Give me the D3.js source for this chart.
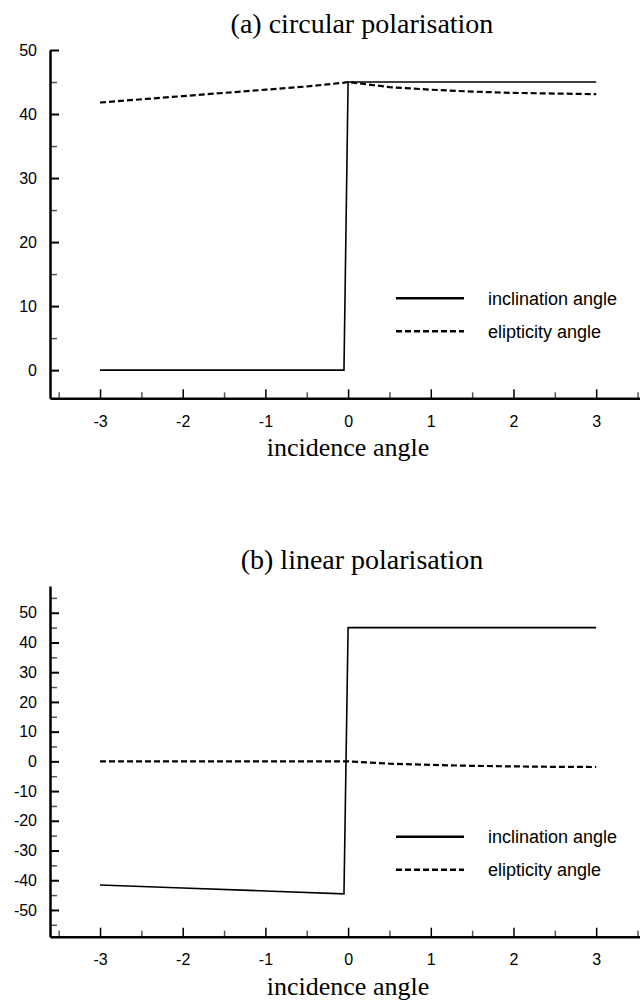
<!DOCTYPE html>
<html>
<head>
<meta charset="utf-8">
<script src="https://cdn.jsdelivr.net/npm/d3@7"></script>
<style>
  body { margin: 0; background: #fff; }
  .tick text { font-family: Arial, "Liberation Sans", sans-serif; font-size: 16px; fill: #000; }
  .title { font-family: "Times New Roman", "Liberation Serif", serif; font-size: 28px; }
  .xlabel { font-family: "Times New Roman", "Liberation Serif", serif; font-size: 26px; }
  .legend text { font-family: Arial, "Liberation Sans", sans-serif; font-size: 18px; }
</style>
</head>
<body>
<div id="chart"></div>
<script>
// chart data
let titles = ["(a) circular polarisation", "(b) linear polarisation"];
let xLabel = "incidence angle";
let seriesNames = ["inclination angle", "elipticity angle"];

// panel (a)
let incA = [[-3, 0], [-0.05, 0], [0, 45], [3, 45]];
let eliA = [[-3, 41.8], [-2, 42.8], [-1, 43.8], [-0.5, 44.3], [-0.05, 44.9], [0, 45],
            [0.5, 44.2], [1, 43.8], [1.5, 43.5], [2, 43.3], [2.5, 43.2], [3, 43.1]];
// panel (b)
let incB = [[-3, -41.6], [-2, -42.6], [-1, -43.6], [-0.05, -44.6], [0, 45], [3, 45]];
let eliB = [[-3, 0], [-2, 0], [-1, 0], [0, 0], [0.5, -0.8], [1, -1.2],
            [1.5, -1.5], [2, -1.7], [2.5, -1.85], [3, -1.9]];

let xTicks = [-3, -2, -1, 0, 1, 2, 3];
let xMinor = [-3.5, -2.5, -1.5, -0.5, 0.5, 1.5, 2.5, 3.5];
let yTicksA = [0, 10, 20, 30, 40, 50];
let yMinorA = [5, 15, 25, 35, 45];
let yTicksB = [-50, -40, -30, -20, -10, 0, 10, 20, 30, 40, 50];
let yMinorB = [-55, -45, -35, -25, -15, -5, 5, 15, 25, 35, 45, 55];

let svgWidth = 640;
let svgHeight = 1007;

let svg = d3.select("#chart")
    .append("svg")
    .attr("width", svgWidth)
    .attr("height", svgHeight);

let xScale = d3.scaleLinear()
    .domain([-3.605, 3.53])
    .range([50, 640]);

// plain hyphen for negatives, like the original
let fmt = d => String(d);

function drawPanel(p) {
    let yScale = d3.scaleLinear().domain(p.yDomain).range([p.bottom, p.top]);
    let g = svg.append("g");

    // title
    g.append("text")
        .attr("class", "title")
        .attr("x", 362)
        .attr("y", p.top - 17)
        .attr("text-anchor", "middle")
        .text(p.title);

    // minor ticks first, then major axes on top
    g.append("g")
        .attr("transform", `translate(50,0)`)
        .call(d3.axisLeft(yScale).tickValues(p.yMinor).tickFormat("").tickSizeInner(-7).tickSizeOuter(0))
        .call(a => a.select(".domain").remove())
        .call(a => a.selectAll("line").attr("stroke", "#555").attr("stroke-width", 1.5));

    g.append("g")
        .attr("transform", `translate(0,${p.bottom})`)
        .call(d3.axisBottom(xScale).tickValues(xMinor).tickFormat("").tickSizeInner(-6).tickSizeOuter(0))
        .call(a => a.select(".domain").remove())
        .call(a => a.selectAll("line").attr("stroke", "#555").attr("stroke-width", 1.5));

    g.append("g")
        .attr("transform", `translate(50,0)`)
        .call(d3.axisLeft(yScale).tickValues(p.yTicks).tickFormat(fmt).tickSizeInner(-9).tickSizeOuter(0).tickPadding(13))
        .call(a => a.select(".domain").attr("stroke-width", 2.5))
        .call(a => a.selectAll("line").attr("stroke-width", 2));

    g.append("g")
        .attr("transform", `translate(0,${p.bottom})`)
        .call(d3.axisBottom(xScale).tickValues(xTicks).tickFormat(fmt).tickSizeInner(-9).tickSizeOuter(0).tickPadding(17))
        .call(a => a.select(".domain").attr("stroke-width", 2.5))
        .call(a => a.selectAll("line").attr("stroke-width", 1.5));

    // axis label
    g.append("text")
        .attr("class", "xlabel")
        .attr("x", 348)
        .attr("y", p.bottom + 58)
        .attr("text-anchor", "middle")
        .text(xLabel);

    let line = d3.line().x(d => xScale(d[0])).y(d => yScale(d[1]));

    g.append("path")
        .datum(p.inc)
        .attr("d", line)
        .attr("fill", "none")
        .attr("stroke", "#000")
        .attr("stroke-width", 1.6);

    g.append("path")
        .datum(p.eli)
        .attr("d", line)
        .attr("fill", "none")
        .attr("stroke", "#000")
        .attr("stroke-width", 2.2)
        .attr("stroke-dasharray", "6,3");

    // legend
    let legend = g.append("g").attr("class", "legend");
    seriesNames.forEach(function(name, i) {
        let ly = p.bottom - 100 + i * 33;
        legend.append("line")
            .attr("x1", 396).attr("x2", 464)
            .attr("y1", ly).attr("y2", ly)
            .attr("stroke", "#000")
            .attr("stroke-width", 2.4)
            .attr("stroke-dasharray", i === 0 ? null : "6,3");
        legend.append("text")
            .attr("x", 488)
            .attr("y", ly)
            .attr("dy", "0.35em")
            .text(name);
    });
}

drawPanel({ title: titles[0], top: 50, bottom: 398.3, yDomain: [-4.4, 50],
            yTicks: yTicksA, yMinor: yMinorA, inc: incA, eli: eliA });
drawPanel({ title: titles[1], top: 586, bottom: 936.7, yDomain: [-59, 59],
            yTicks: yTicksB, yMinor: yMinorB, inc: incB, eli: eliB });
</script>
</body>
</html>
